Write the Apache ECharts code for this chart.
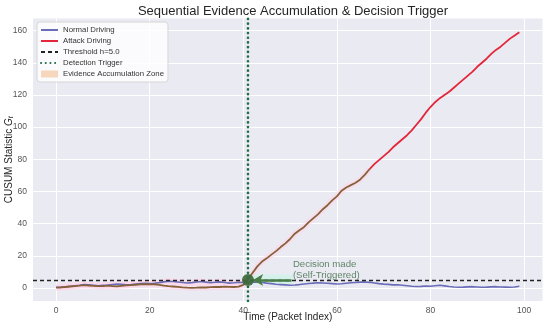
<!DOCTYPE html>
<html><head><meta charset="utf-8">
<script src="https://cdn.jsdelivr.net/npm/echarts@6/dist/echarts.min.js"></script>
<style>html,body{margin:0;padding:0;background:#fff}#c{width:550px;height:328px}</style>
</head><body><div id="c"></div>
<script>
const packetIndex = Array.from({length:100},(_,i)=>i);
const normalDriving = [0.5,0.6,0.9,1.2,1.5,1.8,2.2,2.0,1.8,1.5,1.7,1.9,2.2,2.5,2.3,2.0,2.2,2.5,2.8,3.0,
 2.8,3.0,3.4,3.9,4.3,4.1,3.8,3.5,3.2,3.4,3.8,4.1,3.7,3.3,3.6,3.9,3.5,3.1,3.3,3.6,
 3.5,3.2,3.6,3.9,3.5,3.1,2.8,2.4,2.2,2.0,1.8,1.9,2.2,2.6,2.9,3.1,3.3,3.2,3.0,2.8,
 2.6,2.7,3.0,3.3,3.5,3.7,3.8,3.6,3.2,2.8,2.5,2.3,2.0,2.1,1.8,1.5,1.2,1.0,1.1,1.3,
 1.2,1.5,1.8,1.4,1.0,0.7,0.5,0.6,0.8,0.9,0.7,0.5,0.6,0.8,0.9,0.7,0.6,0.5,0.7,1.2];
const attackDriving = [0.3,0.4,0.7,1.0,1.3,1.5,1.8,1.6,1.4,1.2,1.3,1.5,1.3,1.1,1.4,1.7,1.9,2.1,2.3,2.5,
 2.3,2.4,2.0,1.5,1.2,1.0,0.8,0.5,0.3,0.2,0.3,0.5,0.4,0.6,0.8,0.7,0.9,0.8,0.7,0.9,
 2.0,5.5,9.5,13.5,16.5,18.5,20.8,23.0,25.5,27.8,30.5,33.8,36.0,38.0,41.0,43.5,46.0,49.0,51.5,54.5,
 57.0,60.5,62.5,64.0,65.5,67.5,70.5,74.0,77.0,79.5,82.0,84.5,87.5,90.0,92.5,95.0,98.0,101.5,105.0,109.0,
 112.5,115.5,118.0,120.0,122.0,124.5,127.0,129.5,132.0,134.5,137.5,140.0,142.5,145.5,148.0,150.0,152.5,155.0,157.0,159.0];
const threshold = 5.0;
const triggerIndex = 41;
const xTicks = [0,20,40,60,80,100];
const yTicks = [0,20,40,60,80,100,120,140,160];
const xLimits = [-4.95, 103.95];
const yLimits = [-8, 167.5];
const zoneEnd = 67;
const annotationText = ['Decision made','(Self-Triggered)'];
const annotationPos = [50.6, 11.5];
const arrowFrom = [50.3, threshold];
const arrowTo = [42.1, threshold];
const cyanZone = [[40.5, 2.5], [50.5, 8.5]];

const pair = (xs, ys) => xs.map((x,i)=>[x, ys[i]]);
const FONT = "'Liberation Sans', Arial, sans-serif";
const chart = echarts.init(document.getElementById('c'), null, {renderer:'canvas'});
const attackPairs = pair(packetIndex, attackDriving);
const normalPairs = pair(packetIndex, normalDriving);
const zonePairs = attackPairs.filter(p=>p[0]<=zoneEnd);
const afterZonePairs = attackPairs.filter(p=>p[0]>=zoneEnd);

chart.setOption({
  animation:false,
  textStyle:{fontFamily:FONT},
  title:{text:'Sequential Evidence Accumulation & Decision Trigger', left:288, textAlign:'center', top:0,
    textStyle:{fontSize:13, fontWeight:'normal', color:'#262626', fontFamily:FONT}},
  grid:{left:33, right:7.5, top:18.5, bottom:27, show:true, backgroundColor:'#eaeaf2', borderWidth:0,
    containLabel:false, outerBoundsMode:'none'},
  legend:{left:37, top:22, orient:'vertical', itemWidth:17, itemHeight:7, itemGap:3,
    backgroundColor:'rgba(255,255,255,0.8)', borderColor:'#d6d6d6', borderWidth:1, borderRadius:3,
    padding:[4,4,4,3], textStyle:{fontSize:7.8, color:'#333', fontFamily:FONT},
    itemStyle:{opacity:0},
    data:['Normal Driving','Attack Driving','Threshold h=5.0','Detection Trigger',
      {name:'Evidence Accumulation Zone', icon:'rect', itemStyle:{color:'#f6d6bd', opacity:1}}]},
  xAxis:{type:'value', min:xLimits[0], max:xLimits[1],
    name:'Time (Packet Index)', nameLocation:'middle', nameGap:16, nameMoveOverlap:false,
    nameTextStyle:{fontSize:10, color:'#262626', verticalAlign:'middle'},
    axisLine:{show:false},
    axisTick:{show:false, customValues:xTicks},
    axisLabel:{customValues:xTicks, fontSize:8.5, color:'#555', margin:5},
    splitLine:{show:true, lineStyle:{color:'#fff', width:1}}},
  yAxis:{type:'value', min:yLimits[0], max:yLimits[1],
    name:'CUSUM Statistic {it|G}{sub|t}', nameLocation:'middle', nameGap:18, nameMoveOverlap:false,
    nameTextStyle:{fontSize:10, color:'#262626',
      rich:{it:{fontSize:10, fontStyle:'italic', color:'#262626'}, sub:{fontSize:7, fontStyle:'italic', color:'#262626', padding:[5,0,0,0]}}},
    axisLine:{show:false},
    axisTick:{show:false, customValues:yTicks},
    axisLabel:{customValues:yTicks, fontSize:8.5, color:'#555', margin:6},
    splitLine:{show:true, lineStyle:{color:'#fff', width:1}}},
  series:[
    {name:'Evidence Accumulation Zone', type:'line', symbol:'none', z:1,
      data:zonePairs,
      lineStyle:{color:'#ffd6ea', width:6, opacity:0.6}, itemStyle:{color:'#f6d6bd'},
      markArea:{silent:true, itemStyle:{color:'#d3f1ea'},
        data:[[{coord:cyanZone[0]},{coord:cyanZone[1]}]]}},
    {name:'Evidence Accumulation Zone', type:'line', symbol:'none', z:1,
      data:normalPairs.filter(p=>p[0]<=triggerIndex-1),
      lineStyle:{color:'#ffd6ea', width:6, opacity:0.7}, itemStyle:{color:'#f6d6bd'}},
    {name:'Normal Driving', type:'line', symbol:'none', z:3, data:normalPairs,
      lineStyle:{color:'#6a6cb8', width:1.6}, itemStyle:{color:'#6a6cb8'}},
    {name:'Attack Driving', type:'line', symbol:'none', z:3, data:afterZonePairs,
      lineStyle:{color:'#e3263a', width:1.8}, itemStyle:{color:'#e3263a'}},
    {id:'attackOverlay', name:'attackOverlay', type:'line', symbol:'none', z:4,
      data:zonePairs, itemStyle:{color:'#85623a'},
      lineStyle:{color:'#85623a', width:1.8}},
    {name:'Threshold h=5.0', type:'line', symbol:'none', z:5, data:[],
      lineStyle:{color:'#222', width:1.3, type:[4,3]}, itemStyle:{color:'#222'},
      markLine:{silent:true, symbol:'none', label:{show:false},
        lineStyle:{color:'#222', width:1.3, type:[4,3]}, data:[{yAxis:threshold}]}},
    {name:'Detection Trigger', type:'line', symbol:'none', z:5, clip:true,
      data:[[triggerIndex, yLimits[0]],[triggerIndex, yLimits[1]]],
      lineStyle:{color:'#1f6e46', width:2.6, type:[0.1,4.6], cap:'round'}, itemStyle:{color:'#1f6e46'}},
    {name:'decision', type:'scatter', z:6, symbol:'circle', symbolSize:12,
      data:[[triggerIndex, attackDriving[triggerIndex]-0.5]], itemStyle:{color:'#3e6a3d', opacity:0.92},
      markLine:{silent:true, symbol:['none','arrow'], symbolSize:[9,10], label:{show:false},
        lineStyle:{color:'#4a7c47', width:2.5, type:'solid'},
        data:[[{coord:arrowFrom},{coord:arrowTo}]]}},
    {name:'annotation', type:'scatter', z:7, symbolSize:0, data:[annotationPos],
      label:{show:true, position:'inside', align:'left', verticalAlign:'middle',
        formatter:annotationText.join('\n'), fontSize:9.6, lineHeight:11, color:'#3b6b44', fontFamily:FONT}}
  ]
});
</script></body></html>
